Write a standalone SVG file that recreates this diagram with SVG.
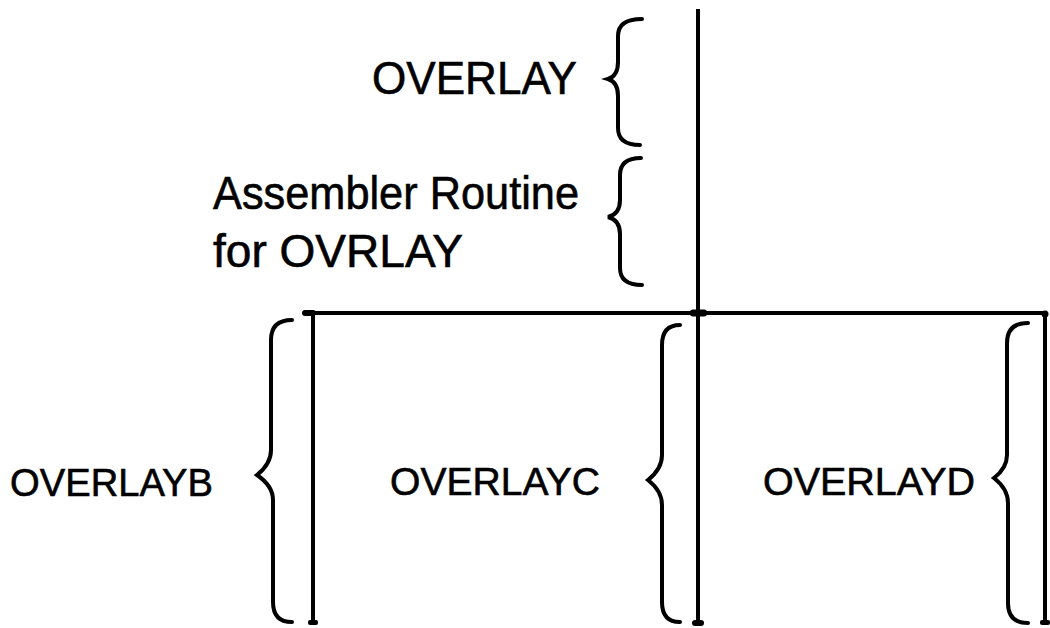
<svg xmlns="http://www.w3.org/2000/svg" width="1050" height="628" viewBox="0 0 1050 628">
<style>
.ln{stroke:#000;stroke-width:4;fill:none;stroke-linecap:butt}
.br{stroke:#000;stroke-width:4;fill:none;stroke-linecap:round;stroke-linejoin:miter}
.big{font-family:"Liberation Sans",Arial,sans-serif;font-size:46px;fill:#000;stroke:#000;stroke-width:0.6}
.sm{font-family:"Liberation Sans",Arial,sans-serif;font-size:39px;fill:#000;stroke:#000;stroke-width:0.6}
.dot{fill:#000}
</style>
<rect width="1050" height="628" fill="#fff"/>
<g id="connectors">
<line class="ln" x1="698" y1="9" x2="698" y2="624"/>
<line class="ln" x1="303" y1="313" x2="1046" y2="313"/>
<line class="ln" x1="313" y1="313" x2="313" y2="623"/>
<line class="ln" x1="1045" y1="313" x2="1045" y2="623"/>
<rect class="dot" x="302" y="310" width="14" height="6" rx="3"/>
<rect class="dot" x="690" y="309.5" width="17" height="7" rx="3"/>
<circle class="dot" cx="1045" cy="314" r="3.5"/>
<rect class="dot" x="308" y="620" width="10" height="5" rx="2"/>
<rect class="dot" x="692" y="620" width="12" height="6" rx="3"/>
<rect class="dot" x="1040" y="620" width="10" height="5" rx="2"/>
</g>
<g id="overlay">
<text class="big" x="372" y="94" textLength="205" lengthAdjust="spacingAndGlyphs">OVERLAY</text>
<path class="br" d="M642,19 Q618,19 618,36 L618,62 Q618,76 608,79 Q618,82 618,96 L618,128 Q618,145 640,145"/>
</g>
<g id="assembler">
<text class="big" x="213" y="209" textLength="366" lengthAdjust="spacingAndGlyphs">Assembler Routine</text>
<text class="big" x="213" y="267" textLength="250" lengthAdjust="spacingAndGlyphs">for OVRLAY</text>
<path class="br" d="M641,158 Q620,158 620,175 L620,200 Q620,214 608,217 Q620,220 620,234 L620,268 Q620,285 642,285"/>
</g>
<g id="overlayb">
<text class="sm" x="10" y="496" textLength="203" lengthAdjust="spacingAndGlyphs">OVERLAYB</text>
<path class="br" d="M292,320 Q271,320 271,340 L271,450 Q271,464 257,475 Q273,486 273,500 L273,602 Q273,622 292,622"/>
</g>
<g id="overlayc">
<text class="sm" x="390" y="495" textLength="210" lengthAdjust="spacingAndGlyphs">OVERLAYC</text>
<path class="br" d="M680,325 Q662,325 662,345 L662,455 Q662,469 648,480 Q662,491 662,505 L662,602 Q662,622 680,622"/>
</g>
<g id="overlayd">
<text class="sm" x="763" y="495" textLength="212" lengthAdjust="spacingAndGlyphs">OVERLAYD</text>
<path class="br" d="M1028,323 Q1007,323 1007,343 L1007,455 Q1007,468 994,478 Q1008,489 1008,503 L1008,603 Q1008,623 1028,623"/>
</g>
</svg>
